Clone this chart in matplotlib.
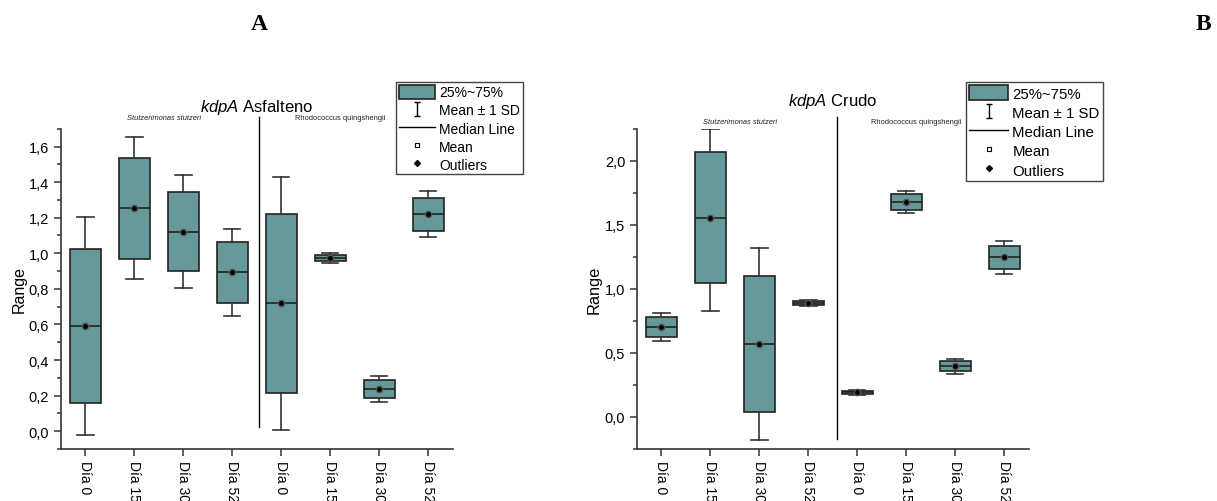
import matplotlib
matplotlib.use("Agg")
import matplotlib.pyplot as plt
from matplotlib.lines import Line2D
from matplotlib.patches import Patch
from matplotlib.path import Path
from matplotlib.ticker import FuncFormatter, AutoMinorLocator

plt.rcParams['font.family'] = ['Liberation Sans', 'DejaVu Sans']
plt.rcParams['mathtext.fontset'] = 'custom'
plt.rcParams['mathtext.rm'] = 'Liberation Sans'
plt.rcParams['mathtext.it'] = 'Liberation Sans:italic'

# datos
dias = ['Día 0', 'Día 15', 'Día 30', 'Día 52', 'Día 0', 'Día 15', 'Día 30', 'Día 52']

# A - Asfalteno
asf_q1 = [0.159, 0.969, 0.898, 0.721, 0.217, 0.954, 0.184, 1.126]
asf_med = [0.590, 1.252, 1.120, 0.894, 0.720, 0.974, 0.236, 1.220]
asf_q3 = [1.023, 1.535, 1.345, 1.062, 1.220, 0.993, 0.287, 1.312]
asf_mean = [0.590, 1.252, 1.120, 0.894, 0.720, 0.974, 0.236, 1.220]
asf_lo = [-0.024, 0.853, 0.804, 0.650, 0.009, 0.946, 0.165, 1.089]
asf_hi = [1.203, 1.653, 1.439, 1.134, 1.430, 1.002, 0.311, 1.349]

# B - Crudo
cru_q1 = [0.626, 1.042, 0.039, 0.875, 0.179, 1.616, 0.359, 1.154]
cru_med = [0.701, 1.553, 0.569, 0.888, 0.192, 1.675, 0.398, 1.245]
cru_q3 = [0.779, 2.070, 1.101, 0.904, 0.203, 1.738, 0.436, 1.332]
cru_mean = [0.701, 1.553, 0.569, 0.888, 0.192, 1.675, 0.398, 1.245]
cru_lo = [0.595, 0.826, -0.182, 0.868, 0.171, 1.592, 0.338, 1.118]
cru_hi = [0.810, 2.249, 1.319, 0.914, 0.208, 1.761, 0.455, 1.370]

teal = '#669999'
edge = '#222222'

fig = plt.figure(figsize=(12.17, 5.02), dpi=100)
axA = fig.add_axes([0.0501, 0.1036, 0.322, 0.638])
axB = fig.add_axes([0.5234, 0.1036, 0.322, 0.638])


def caja(ax, q1, med, q3, mean, lo, hi):
    stats = []
    for i in range(len(q1)):
        stats.append({'q1': q1[i], 'med': med[i], 'q3': q3[i], 'mean': mean[i],
                      'whislo': lo[i], 'whishi': hi[i], 'fliers': []})
    ax.bxp(stats, positions=range(1, len(stats) + 1), widths=0.64, patch_artist=True,
           showmeans=True,
           boxprops=dict(facecolor=teal, edgecolor=edge, linewidth=1.2),
           medianprops=dict(color=edge, linewidth=1.2),
           whiskerprops=dict(color='#333333', linewidth=1.2),
           capprops=dict(color='#333333', linewidth=1.2),
           capwidths=0.33,
           meanprops=dict(marker='o', markerfacecolor='black', markeredgecolor='#555555',
                          markersize=4.5))


def ejes(ax, ylim, sep, sep_bot, sp_y, fs_lab, lab_x):
    ax.set_xlim(0.5, 8.5)
    ax.set_ylim(*ylim)
    ax.spines['top'].set_visible(False)
    ax.spines['right'].set_visible(False)
    for s in ['left', 'bottom']:
        ax.spines[s].set_color('#333333')
        ax.spines[s].set_linewidth(1.2)
    ax.set_xticks(range(1, 9))
    ax.set_xticklabels(dias, rotation=270, fontsize=10)
    ax.yaxis.set_minor_locator(AutoMinorLocator(2))
    ax.yaxis.set_major_formatter(FuncFormatter(lambda v, p: ('%.1f' % v).replace('.', ',')))
    ax.tick_params(axis='y', labelsize=10.5, length=5, width=1.1, color='#333333')
    ax.tick_params(axis='y', which='minor', length=3, width=1.1, color='#333333')
    ax.tick_params(axis='x', length=5, width=1.1, color='#333333', pad=3)
    ax.set_ylabel('Range', fontsize=fs_lab)
    ax.yaxis.set_label_coords(lab_x, 0.5)
    ax.axvline(sep, ymin=sep_bot, ymax=1.037, color='black', linewidth=1.0, clip_on=False)
    tr = ax.get_xaxis_transform()
    ax.text(2.6, sp_y, 'Stutzerimonas stutzeri', style='italic', fontsize=5.4,
            ha='center', va='center', transform=tr, color='#222222')
    ax.text(6.2, sp_y, 'Rhodococcus quingshengii', fontsize=5.4,
            ha='center', va='center', transform=tr, color='#222222')


caja(axA, asf_q1, asf_med, asf_q3, asf_mean, asf_lo, asf_hi)
caja(axB, cru_q1, cru_med, cru_q3, cru_mean, cru_lo, cru_hi)
ejes(axA, (-0.1, 1.7), 4.55, 0.07, 1.035, 11.5, -0.088)
ejes(axB, (-0.25, 2.25), 4.58, 0.03, 1.022, 11.8, -0.09)

axA.set_title(r'$\it{kdpA}$ Asfalteno', fontsize=12, pad=13)
axB.set_title(r'$\it{kdpA}$ Crudo', fontsize=12, pad=17)

# leyenda
sd_path = Path([(-0.5, 1), (0.5, 1), (0, 1), (0, -1), (-0.5, -1), (0.5, -1)],
               [Path.MOVETO, Path.LINETO, Path.MOVETO, Path.LINETO, Path.MOVETO, Path.LINETO])
handles = [Patch(facecolor=teal, edgecolor=edge, linewidth=1.2),
           Line2D([], [], linestyle='none', marker=sd_path, markersize=10,
                  markerfacecolor='none', markeredgecolor='black', markeredgewidth=1.0),
           Line2D([], [], color='black', linewidth=1.0),
           Line2D([], [], linestyle='none', marker='s', markersize=3,
                  markerfacecolor='white', markeredgecolor='black', markeredgewidth=0.8),
           Line2D([], [], linestyle='none', marker='D', markersize=3,
                  markerfacecolor='black', markeredgecolor='black')]
labels = ['25%~75%', 'Mean ± 1 SD', 'Median Line', 'Mean', 'Outliers']

for x0, fs in [(396 / 1217, 10), (966 / 1217, 10.8)]:
    lg = fig.legend(handles, labels, loc='upper left', bbox_to_anchor=(x0, 1 - 83 / 502),
                    fontsize=fs, frameon=True, fancybox=False, edgecolor='#444444',
                    framealpha=1, borderpad=0.2, labelspacing=0.25, handlelength=2.6,
                    handleheight=1.15, handletextpad=0.3, borderaxespad=0)
    lg.get_frame().set_linewidth(1.0)

fig.text(259 / 1217, 1 - 25 / 502, 'A', fontsize=17, fontweight='bold',
         family='Liberation Serif', ha='center', va='center')
fig.text(1203 / 1217, 1 - 25 / 502, 'B', fontsize=17, fontweight='bold',
         family='Liberation Serif', ha='center', va='center')

fig.savefig('out.png', dpi=100)
